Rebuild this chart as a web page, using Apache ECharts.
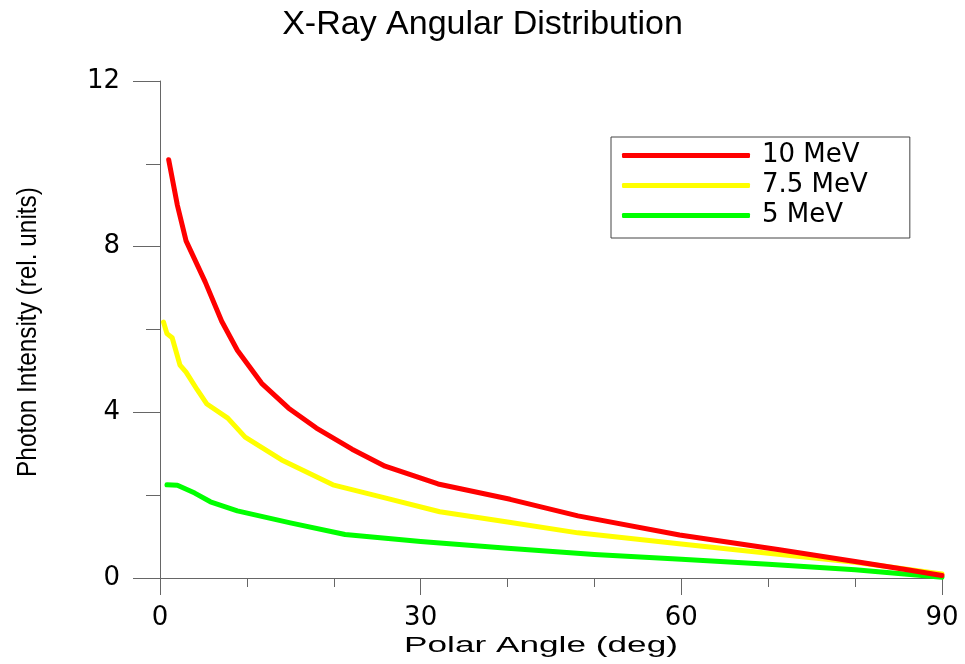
<!DOCTYPE html>
<html><head><meta charset="utf-8">
<script src="https://cdn.jsdelivr.net/npm/echarts@6/dist/echarts.min.js"></script>
<style>html,body{margin:0;padding:0;background:#fff}#c{width:965px;height:664px}</style>
</head><body><div id="c"></div>
<script>
const title = "X-Ray Angular Distribution";
const xName = "Polar Angle (deg)";
const yName = "Photon Intensity (rel. units)";
const seriesNames = ["10 MeV", "7.5 MeV", "5 MeV"];
const seriesColors = ["#ff0000", "#ffff00", "#00ff00"];

const angle10 = [1, 2, 3, 5.2, 7.1, 8.9, 11.7, 14.8, 18, 22.1, 25.9, 32, 40.3, 48.1, 59.8, 71.3, 80, 86, 90];
const inten10 = [10.1, 9.0, 8.14, 7.15, 6.2, 5.5, 4.7, 4.1, 3.62, 3.11, 2.7, 2.27, 1.9, 1.5, 1.04, 0.68, 0.4, 0.2, 0.06];

const angle75 = [0.4, 0.8, 1.4, 2.3, 3.0, 4.3, 5.4, 7.8, 9.8, 14, 19.9, 26, 32.2, 40, 48.1, 60, 70, 80, 90];
const inten75 = [6.18, 5.9, 5.8, 5.14, 4.97, 4.54, 4.2, 3.86, 3.4, 2.85, 2.25, 1.93, 1.6, 1.35, 1.09, 0.82, 0.6, 0.38, 0.1];

const angle5 = [0.8, 2, 4, 5.8, 8.9, 15, 21.3, 30, 40, 50, 60, 70, 80, 90];
const inten5 = [2.25, 2.24, 2.05, 1.84, 1.62, 1.33, 1.05, 0.88, 0.72, 0.57, 0.45, 0.33, 0.2, 0.02];

const xTicks = {min: 0, max: 90, interval: 30};
const yTicks = {min: 0, max: 12, interval: 4};

function pairs(xs, ys){ return xs.map((x,i)=>[x, ys[i]]); }
const seriesData = [pairs(angle10, inten10), pairs(angle75, inten75), pairs(angle5, inten5)];

const chart = echarts.init(document.getElementById('c'), null, {renderer: 'canvas'});
const axisColor = '#666';
const tickFont = 'DejaVu Sans, Verdana, sans-serif';
chart.setOption({
  animation: false,
  backgroundColor: '#fff',
  title: {
    text: title, left: 'center', top: 3,
    textStyle: {fontFamily: 'Liberation Sans, Arial, sans-serif', fontSize: 34, fontWeight: 'normal', color: '#000'}
  },
  legend: {
    orient: 'vertical', left: 611, top: 137,
    data: seriesNames.map(n => ({name: n, icon: 'roundRect'})),
    borderColor: '#444', borderWidth: 1, borderRadius: 0,
    padding: [4, 42, 8, 11],
    itemWidth: 128, itemHeight: 5, itemGap: 1,
    itemStyle: {borderWidth: 0},
    textStyle: {fontFamily: tickFont, fontSize: 26, lineHeight: 29, color: '#000', padding: [0, 0, 0, 7]}
  },
  grid: {left: 160, right: 23, top: 81, bottom: 86, containLabel: false, outerBoundsMode: 'none'},
  xAxis: {
    type: 'value', min: xTicks.min, max: xTicks.max, interval: xTicks.interval,
    axisLine: {show: true, onZero: false, lineStyle: {color: axisColor, width: 1}},
    axisTick: {show: true, inside: false, length: 17, lineStyle: {color: axisColor}},
    minorTick: {show: true, splitNumber: 3, length: 9, lineStyle: {color: axisColor}},
    axisLabel: {margin: 27, fontFamily: tickFont, fontSize: 26, color: '#000'},
    splitLine: {show: false}
  },
  yAxis: {
    type: 'value', min: yTicks.min, max: yTicks.max, interval: yTicks.interval,
    axisLine: {show: true, onZero: false, lineStyle: {color: axisColor, width: 1}},
    axisTick: {show: true, inside: false, length: 27, lineStyle: {color: axisColor}},
    minorTick: {show: true, splitNumber: 2, length: 14, lineStyle: {color: axisColor}},
    axisLabel: {margin: 40, fontFamily: tickFont, fontSize: 26, color: '#000'},
    splitLine: {show: false}
  },
  graphic: [
    {
      type: 'text', x: 541, y: 646, scaleX: 1.6, scaleY: 1,
      style: {text: xName, fontFamily: 'Liberation Sans, Arial, sans-serif', fontSize: 22,
              fill: '#000', align: 'center', verticalAlign: 'middle'}
    },
    {
      type: 'text', x: 28, y: 332, rotation: Math.PI / 2, scaleX: 0.87, scaleY: 1,
      style: {text: yName, fontFamily: 'Liberation Sans, Arial, sans-serif', fontSize: 28,
              fill: '#000', align: 'center', verticalAlign: 'middle'}
    }
  ],
  series: seriesNames.map((n, i) => ({
    name: n, type: 'line', data: seriesData[i],
    showSymbol: false, symbol: 'none', smooth: false,
    color: seriesColors[i],
    lineStyle: {color: seriesColors[i], width: 5, cap: 'round', join: 'round'},
    z: 3 - i
  }))
});
</script></body></html>
